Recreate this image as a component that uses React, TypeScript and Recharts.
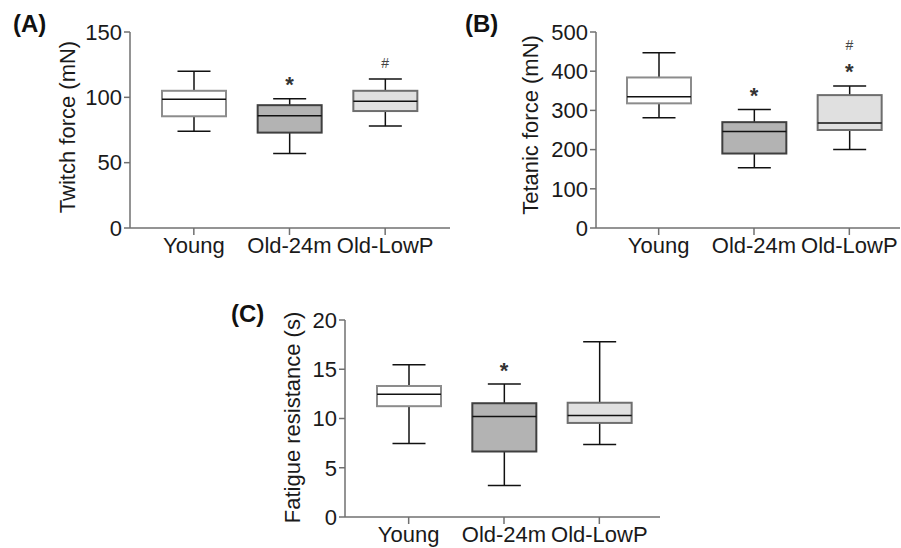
import { ComposedChart, Bar, Scatter, XAxis, YAxis } from "recharts";

const CATEGORIES = ["Young", "Old-24m", "Old-LowP"];

// (A) twitch force, mN
const twitchMin = [74, 57, 78];
const twitchQ1 = [85.5, 73, 89.5];
const twitchMedian = [98.5, 86, 97];
const twitchQ3 = [105, 94, 105];
const twitchMax = [120, 99, 114];
const twitchStar = [null, 113, null];
const twitchHash = [null, null, 126];
const twitchTicks = [0, 50, 100, 150];

// (B) tetanic force, mN
const tetanicMin = [281, 154, 200];
const tetanicQ1 = [318, 190, 250];
const tetanicMedian = [335, 246, 268];
const tetanicQ3 = [384, 270, 339];
const tetanicMax = [447, 302, 362];
const tetanicStar = [null, 350, 411];
const tetanicHash = [null, null, 466];
const tetanicTicks = [0, 100, 200, 300, 400, 500];

// (C) fatigue resistance, s
const fatigueMin = [7.45, 3.2, 7.35];
const fatigueQ1 = [11.25, 6.65, 9.55];
const fatigueMedian = [12.45, 10.2, 10.3];
const fatigueQ3 = [13.3, 11.55, 11.6];
const fatigueMax = [15.45, 13.5, 17.8];
const fatigueStar = [null, 15.3, null];
const fatigueHash = [null, null, null];
const fatigueTicks = [0, 5, 10, 15, 20];

const BOX_FILL = ["#ffffff", "#b3b3b3", "#e0e0e0"];
const BOX_STROKE = ["#8c8c8c", "#3f3f3f", "#6e6e6e"];
const FONT = '"Liberation Sans", Arial, Helvetica, sans-serif';

type Row = {
  name: string;
  min: number;
  q1: number;
  median: number;
  q3: number;
  max: number;
  star: number | null;
  hash: number | null;
};

function rows(min: number[], q1: number[], med: number[], q3: number[], max: number[], star: (number | null)[], hash: (number | null)[]): Row[] {
  return CATEGORIES.map((name, i) => ({
    name,
    min: min[i],
    q1: q1[i],
    median: med[i],
    q3: q3[i],
    max: max[i],
    star: star[i],
    hash: hash[i],
  }));
}

const twitchData = rows(twitchMin, twitchQ1, twitchMedian, twitchQ3, twitchMax, twitchStar, twitchHash);
const tetanicData = rows(tetanicMin, tetanicQ1, tetanicMedian, tetanicQ3, tetanicMax, tetanicStar, tetanicHash);
const fatigueData = rows(fatigueMin, fatigueQ1, fatigueMedian, fatigueQ3, fatigueMax, fatigueStar, fatigueHash);

// bar spans min..max, box parts are placed inside it on the same scale
function BoxShape(props: any) {
  const { x, y, width, height, payload, index } = props;
  if (!payload) return null;
  const top = Math.min(y, y + height);
  const bottom = Math.max(y, y + height);
  const px = (v: number) => top + ((payload.max - v) / (payload.max - payload.min)) * (bottom - top);
  const cx = x + width / 2;
  const half = width / 2;
  const cap = 16.5;
  const yQ1 = px(payload.q1);
  const yQ3 = px(payload.q3);
  const yMed = px(payload.median);
  return (
    <g>
      <line x1={cx} x2={cx} y1={top} y2={yQ3} stroke="#111" strokeWidth={1.5} />
      <line x1={cx} x2={cx} y1={yQ1} y2={bottom} stroke="#111" strokeWidth={1.5} />
      <line x1={cx - cap} x2={cx + cap} y1={top} y2={top} stroke="#111" strokeWidth={1.5} />
      <line x1={cx - cap} x2={cx + cap} y1={bottom} y2={bottom} stroke="#111" strokeWidth={1.5} />
      <rect
        x={cx - half}
        y={yQ3}
        width={width}
        height={yQ1 - yQ3}
        fill={BOX_FILL[index]}
        stroke={BOX_STROKE[index]}
        strokeWidth={2}
      />
      <line x1={cx - half} x2={cx + half} y1={yMed} y2={yMed} stroke="#111" strokeWidth={1.5} />
    </g>
  );
}

function StarShape(props: any) {
  const { cx, cy, payload } = props;
  if (!payload || payload.star == null) return <g />;
  return (
    <text x={cx} y={cy + 12} textAnchor="middle" fontSize={22} fontWeight="bold" fill="#333" fontFamily={FONT}>
      *
    </text>
  );
}

function HashShape(props: any) {
  const { cx, cy, payload } = props;
  if (!payload || payload.hash == null) return <g />;
  return (
    <text x={cx} y={cy + 5} textAnchor="middle" fontSize={14} fill="#444" fontFamily={FONT}>
      #
    </text>
  );
}

function AxisTitle(props: any) {
  const { viewBox, value, offX, shiftY } = props;
  const cx = viewBox.x + offX;
  const cy = viewBox.y + viewBox.height / 2 + shiftY;
  return (
    <text
      x={cx}
      y={cy}
      transform={`rotate(-90, ${cx}, ${cy})`}
      textAnchor="middle"
      dominantBaseline="central"
      fontSize={22}
      fill="#1a1a1a"
      fontFamily={FONT}
    >
      {value}
    </text>
  );
}

interface PanelProps {
  data: Row[];
  ticks: number[];
  title: string;
  left: number;
  top: number;
  width: number;
  height: number;
  marginTop: number;
  marginRight: number;
  yWidth: number;
  xHeight: number;
  padL: number;
  padR: number;
  titleX: number;
  titleShift: number;
}

function Panel(p: PanelProps) {
  const tickStyle = { fill: "#1a1a1a", fontSize: 22, fontFamily: FONT };
  return (
    <div style={{ position: "absolute", left: p.left, top: p.top }}>
      <ComposedChart
        width={p.width}
        height={p.height}
        data={p.data}
        margin={{ top: p.marginTop, right: p.marginRight, bottom: 0, left: 0 }}
      >
        <XAxis
          dataKey="name"
          type="category"
          height={p.xHeight}
          padding={{ left: p.padL, right: p.padR }}
          stroke="#707070"
          strokeWidth={1.5}
          tickSize={7}
          tickMargin={2}
          tick={tickStyle}
          interval={0}
        />
        <YAxis
          type="number"
          domain={[p.ticks[0], p.ticks[p.ticks.length - 1]]}
          ticks={p.ticks}
          width={p.yWidth}
          stroke="#707070"
          strokeWidth={1.5}
          tickSize={6}
          tickMargin={2}
          tick={tickStyle}
          label={<AxisTitle value={p.title} offX={p.titleX} shiftY={p.titleShift} />}
        />
        <Bar
          dataKey={(r: Row) => [r.min, r.max]}
          barSize={64}
          shape={<BoxShape />}
          isAnimationActive={false}
        />
        <Scatter dataKey="star" shape={<StarShape />} isAnimationActive={false} />
        <Scatter dataKey="hash" shape={<HashShape />} isAnimationActive={false} />
      </ComposedChart>
    </div>
  );
}

const letterStyle = {
  position: "absolute" as const,
  fontFamily: FONT,
  fontWeight: "bold" as const,
  fontSize: 24,
  lineHeight: 1,
  color: "#111",
};

export default function App() {
  return (
    <div style={{ position: "absolute", left: 0, top: 0, width: 901, height: 548, background: "#fff", overflow: "hidden" }}>
      <Panel
        data={twitchData}
        ticks={twitchTicks}
        title="Twitch force (mN)"
        left={0}
        top={0}
        width={460}
        height={275}
        marginTop={32}
        marginRight={10}
        yWidth={130}
        xHeight={47}
        padL={16}
        padR={17}
        titleX={67}
        titleShift={-3}
      />
      <Panel
        data={tetanicData}
        ticks={tetanicTicks}
        title="Tetanic force (mN)"
        left={450}
        top={0}
        width={451}
        height={275}
        marginTop={32}
        marginRight={1}
        yWidth={146}
        xHeight={47}
        padL={15}
        padR={3}
        titleX={80}
        titleShift={-5}
      />
      <Panel
        data={fatigueData}
        ticks={fatigueTicks}
        title="Fatigue resistance (s)"
        left={210}
        top={290}
        width={460}
        height={258}
        marginTop={30}
        marginRight={10}
        yWidth={135}
        xHeight={31}
        padL={16}
        padR={13}
        titleX={82}
        titleShift={-1}
      />
      <div style={{ ...letterStyle, left: 13, top: 12 }}>(A)</div>
      <div style={{ ...letterStyle, left: 465, top: 12 }}>(B)</div>
      <div style={{ ...letterStyle, left: 231, top: 302 }}>(C)</div>
    </div>
  );
}
